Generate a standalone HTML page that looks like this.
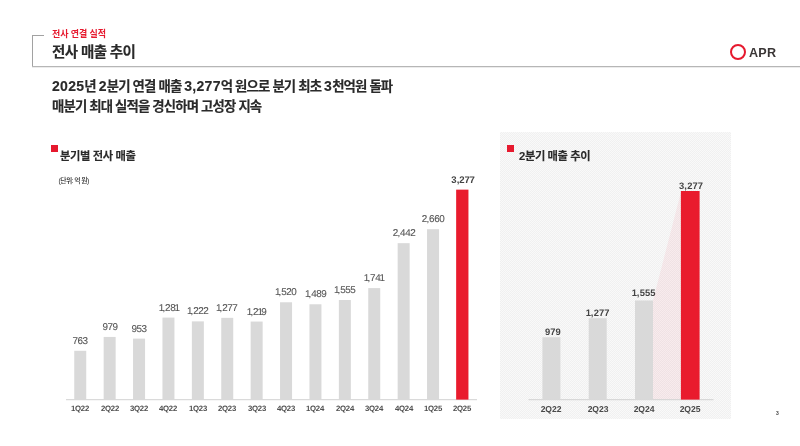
<!DOCTYPE html>
<html lang="ko"><head><meta charset="utf-8"><title>전사 매출 추이</title>
<style>
*{margin:0;padding:0;box-sizing:border-box}
html,body{width:800px;height:446px;background:#fff;overflow:hidden}
body{position:relative;font-family:"Liberation Sans","Noto Sans CJK KR",sans-serif;color:#2b2b2b}
.abs{position:absolute;white-space:nowrap}
.frame-l{left:32px;top:35px;width:1px;height:32px;background:#a2a2a2}
.frame-t{left:32px;top:35px;width:12px;height:1px;background:#a2a2a2}
.frame-b{left:32px;top:66px;width:768px;height:1px;background:#b6b6b6;box-shadow:0 1px 0 #ececec}
.sub{left:52px;top:26.5px;font-size:9px;line-height:14px;font-weight:700;color:#e6192e;letter-spacing:-0.1px}
.title{-webkit-text-stroke:0.15px #2a2a2a;left:52px;top:41px;font-size:14.5px;line-height:22px;font-weight:700;color:#2a2a2a;letter-spacing:-0.6px}
.logo-c{left:730px;top:44.2px;width:16px;height:16px;border:2px solid #e6192e;border-radius:50%}
.logo-t{left:749px;top:46px;font-size:12.6px;line-height:15px;font-weight:700;color:#3a3636;letter-spacing:0.2px}
.head{-webkit-text-stroke:0.15px #2a2a2a;left:52px;font-size:13.4px;line-height:20px;font-weight:700;color:#2a2a2a;letter-spacing:-0.85px}
.head b{font-size:14px;letter-spacing:0.3px;font-weight:700}
.sq{width:6.7px;height:6.6px;background:#e6192e}
.sec{-webkit-text-stroke:0.12px #2a2a2a;font-size:11.3px;line-height:16px;font-weight:700;color:#2a2a2a;letter-spacing:-0.4px}
.unit{left:58.5px;top:175px;font-size:6.8px;line-height:11px;font-weight:500;color:#2a2a2a;letter-spacing:-0.55px}
.panel{left:500.2px;top:132px;width:230.8px;height:287px;background-color:#f9f9f9;
 background-image:repeating-linear-gradient(135deg,rgba(0,0,0,0.035) 0 0.7071px,rgba(0,0,0,0) 0.7071px 1.4142px)}
.val{position:absolute;width:60px;text-align:center;font-size:9.9px;line-height:12px;color:#555;letter-spacing:-0.42px;white-space:nowrap;transform:rotate(0.03deg);-webkit-text-stroke:0.1px #555}
.val i{font-style:normal;margin:0 -1.2px 0 -0.7px}
.val u{text-decoration:none;margin:0 0.3px 0 -0.3px}
.val.rv i,.val.vb i{margin:0 -0.5px 0 -0.8px}
.val.rv u,.val.vb u{margin:0 0.3px 0 0.2px}
.val.vb{font-weight:700;color:#444;-webkit-text-stroke:0;font-size:9.6px;letter-spacing:-0.25px;margin-left:0.6px}
.val.rv{-webkit-text-stroke:0;font-weight:700;color:#444;font-size:9.4px;letter-spacing:0.05px}
.ql{position:absolute;width:60px;text-align:center;top:403.5px;font-size:7.8px;line-height:10px;font-weight:700;color:#505050;letter-spacing:-0.25px;white-space:nowrap;transform:rotate(0.03deg)}
.ql.rq{top:404px;font-size:8.6px;line-height:11px;color:#4a4a4a;letter-spacing:-0.1px}
.pg{left:776px;top:409.5px;font-size:5px;line-height:7px;font-weight:700;color:#444}
svg{position:absolute;left:0;top:0}
</style></head><body>
<div class="abs frame-l"></div><div class="abs frame-t"></div><div class="abs frame-b"></div>
<div class="abs sub">전사 연결 실적</div>
<div class="abs title">전사 매출 추이</div>
<div class="abs logo-c"></div><div class="abs logo-t">APR</div>
<div class="abs head" style="top:76px"><b>2025</b>년 <b>2</b>분기 연결 매출 <b>3,277</b>억 원으로 분기 최초 <b>3</b>천억원 돌파</div>
<div class="abs head" style="top:97.2px">매분기 최대 실적을 경신하며 고성장 지속</div>

<div class="abs sq" style="left:51.1px;top:145.3px"></div>
<div class="abs sec" style="left:60px;top:147.5px">분기별 전사 매출</div>
<div class="abs unit">(단위: 억 원)</div>

<div class="abs panel"></div>
<div class="abs sq" style="left:507px;top:145.3px"></div>
<div class="abs sec" style="left:519px;top:147.5px">2분기 매출 추이</div>

<div class="val" style="left:50.45px;top:334.79px">763</div>
<div class="ql" style="left:50.25px">1Q22</div>
<div class="val" style="left:79.85px;top:320.95px">979</div>
<div class="ql" style="left:79.65px">2Q22</div>
<div class="val" style="left:109.25px;top:322.61px">953</div>
<div class="ql" style="left:109.05px">3Q22</div>
<div class="val" style="left:138.65px;top:301.59px"><i>1</i><u>,</u>28<i>1</i></div>
<div class="ql" style="left:138.45px">4Q22</div>
<div class="val" style="left:168.05px;top:305.37px"><i>1</i><u>,</u>222</div>
<div class="ql" style="left:167.85px">1Q23</div>
<div class="val" style="left:197.45px;top:301.84px"><i>1</i><u>,</u>277</div>
<div class="ql" style="left:197.25px">2Q23</div>
<div class="val" style="left:226.85px;top:305.56px"><i>1</i><u>,</u>2<i>1</i>9</div>
<div class="ql" style="left:226.65px">3Q23</div>
<div class="val" style="left:256.25px;top:286.27px"><i>1</i><u>,</u>520</div>
<div class="ql" style="left:256.05px">4Q23</div>
<div class="val" style="left:285.65px;top:288.26px"><i>1</i><u>,</u>489</div>
<div class="ql" style="left:285.45px">1Q24</div>
<div class="val" style="left:315.05px;top:284.02px"><i>1</i><u>,</u>555</div>
<div class="ql" style="left:314.85px">2Q24</div>
<div class="val" style="left:344.45px;top:272.10px"><i>1</i><u>,</u>74<i>1</i></div>
<div class="ql" style="left:344.25px">3Q24</div>
<div class="val" style="left:373.85px;top:227.17px">2<u>,</u>442</div>
<div class="ql" style="left:373.65px">4Q24</div>
<div class="val" style="left:403.25px;top:213.19px">2<u>,</u>660</div>
<div class="ql" style="left:403.05px">1Q25</div>
<div class="val vb" style="left:432.35px;top:173.64px">3<u>,</u>277</div>
<div class="ql" style="left:432.15px">2Q25</div>
<div class="val rv" style="left:522.80px;top:325.74px">979</div>
<div class="ql rq" style="left:521.40px">2Q22</div>
<div class="val rv" style="left:567.70px;top:306.63px"><i>1</i><u>,</u>277</div>
<div class="ql rq" style="left:567.70px">2Q23</div>
<div class="val rv" style="left:613.80px;top:287.09px"><i>1</i><u>,</u>555</div>
<div class="ql rq" style="left:614.00px">2Q24</div>
<div class="val rv" style="left:661.30px;top:179.90px">3<u>,</u>277</div>
<div class="ql rq" style="left:660.30px">2Q25</div>
<svg width="800" height="446" viewBox="0 0 800 446">
<polygon points="653.00,300.49 681.20,191.00 681.20,399.6 653.00,399.6" fill="rgba(232,25,44,0.06)"/>
<rect x="66" y="399.2" width="411" height="1" fill="#d2d2d2"/>
<rect x="528.5" y="399.2" width="185" height="1" fill="#d2d2d2"/>
<rect x="74.25" y="350.79" width="12" height="48.81" fill="#d9d9d9"/>
<rect x="103.65" y="336.95" width="12" height="62.65" fill="#d9d9d9"/>
<rect x="133.05" y="338.61" width="12" height="60.99" fill="#d9d9d9"/>
<rect x="162.45" y="317.59" width="12" height="82.01" fill="#d9d9d9"/>
<rect x="191.85" y="321.37" width="12" height="78.23" fill="#d9d9d9"/>
<rect x="221.25" y="317.84" width="12" height="81.76" fill="#d9d9d9"/>
<rect x="250.65" y="321.56" width="12" height="78.04" fill="#d9d9d9"/>
<rect x="280.05" y="302.27" width="12" height="97.33" fill="#d9d9d9"/>
<rect x="309.45" y="304.26" width="12" height="95.34" fill="#d9d9d9"/>
<rect x="338.85" y="300.02" width="12" height="99.58" fill="#d9d9d9"/>
<rect x="368.25" y="288.10" width="12" height="111.50" fill="#d9d9d9"/>
<rect x="397.65" y="243.17" width="12" height="156.43" fill="#d9d9d9"/>
<rect x="427.05" y="229.19" width="12" height="170.41" fill="#d9d9d9"/>
<rect x="456.15" y="189.64" width="12.3" height="209.96" fill="#e91b2d"/>
<rect x="542.40" y="337.24" width="18" height="62.36" fill="#d9d9d9"/>
<rect x="588.70" y="318.23" width="18" height="81.37" fill="#d9d9d9"/>
<rect x="635.00" y="300.49" width="18" height="99.11" fill="#d9d9d9"/>
<rect x="680.90" y="191.00" width="18.7" height="208.60" fill="#e91b2d"/>
</svg>
<div class="abs pg">3</div>
</body></html>
